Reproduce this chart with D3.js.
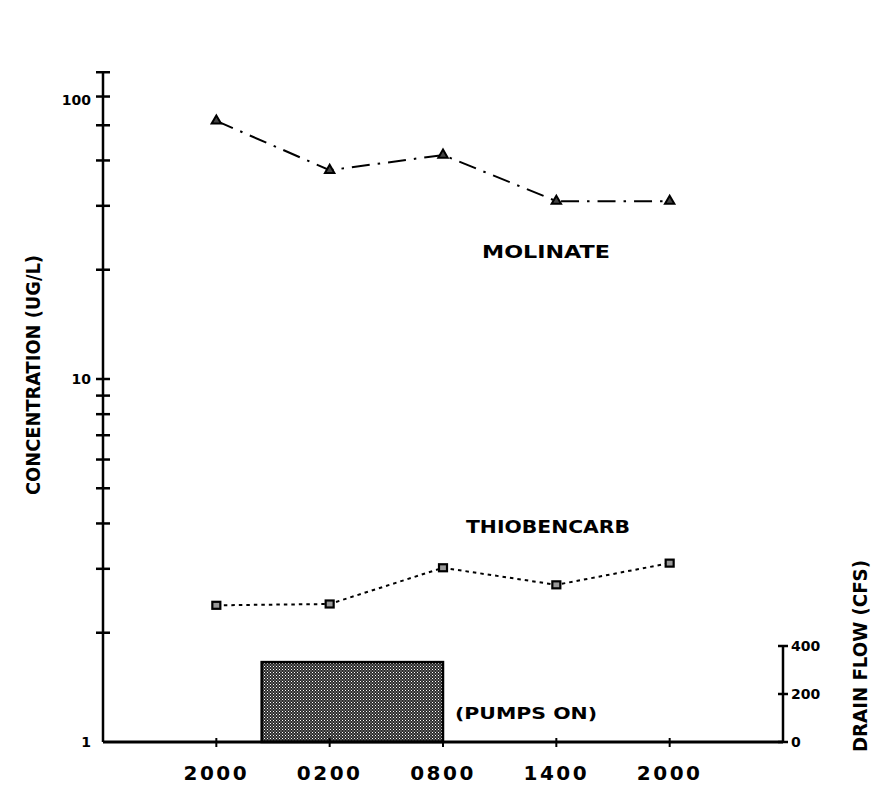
<!DOCTYPE html>
<html>
<head>
<meta charset="utf-8">
<script src="https://cdn.jsdelivr.net/npm/d3@7"></script>
<style>
  html, body { margin: 0; padding: 0; background: #fff; }
  svg { display: block; }
  text { fill: #000; }
</style>
</head>
<body>
<svg id="chart" width="888" height="785"></svg>
<script>
// Sampling times, hours after the first 2000 sample
const sampleHours = [0, 6, 12, 18, 24];
const timeLabels = ["2000", "0200", "0800", "1400", "2000"];

// Concentrations (ug/L)
const molinate = [51.4, 37.6, 41.4, 30.9, 30.9];
const thiobencarb = [2.38, 2.40, 3.02, 2.71, 3.11];

// Drain pumping period (hours) and flow (cfs)
const pumpStart = [2.4];
const pumpEnd = [12];
const pumpFlow = [333];

// Axis ticks
const concMinorTicks = [2, 3, 4, 5, 6, 7, 8, 9, 10, 20, 30, 40, 50, 60, 70];
const concLabelValues = [1, 10, 70];
const concLabelText = ["1", "10", "100"];
const flowTicks = [0, 200, 400];

const svg = d3.select("#chart");

const x = d3.scaleLinear().domain([-6, 30]).range([103, 783]);
const y = d3.scaleLog().domain([1, 70]).range([742, 742 - 363 * Math.log10(70)]);
const yFlow = d3.scaleLinear().domain([0, 400]).range([742, 646]);

const ink = "#000";
const labelFont = "'DejaVu Sans', 'Noto Sans', sans-serif";
const condFont = "'DejaVu Sans Condensed', 'DejaVu Sans', sans-serif";

// Hatched fill for the pumping bar
const defs = svg.append("defs");
const pat = defs.append("pattern")
  .attr("id", "hatch").attr("patternUnits", "userSpaceOnUse")
  .attr("width", 3).attr("height", 3);
pat.append("rect").attr("width", 3).attr("height", 3).attr("fill", "#2a2a2a");
pat.append("rect").attr("x", 0).attr("y", 0).attr("width", 1).attr("height", 1).attr("fill", "#fff");
pat.append("rect").attr("x", 1.5).attr("y", 1.5).attr("width", 1).attr("height", 1).attr("fill", "#ccc");

// Drain flow bar
svg.append("g").selectAll("rect").data(pumpFlow).join("rect")
  .attr("x", (d, i) => x(pumpStart[i]))
  .attr("y", d => yFlow(d))
  .attr("width", (d, i) => x(pumpEnd[i]) - x(pumpStart[i]))
  .attr("height", d => yFlow(0) - yFlow(d))
  .attr("fill", "url(#hatch)")
  .attr("stroke", ink).attr("stroke-width", 2.5);

// Left concentration axis
const yAxis = svg.append("g").attr("transform", `translate(${x(-6)},0)`);
yAxis.append("line")
  .attr("x1", 0).attr("x2", 0)
  .attr("y1", y(1)).attr("y2", y(70))
  .attr("stroke", ink).attr("stroke-width", 2.5);
yAxis.selectAll("line.tick").data(concMinorTicks).join("line")
  .attr("class", "tick")
  .attr("x1", -7).attr("x2", 7)
  .attr("y1", d => y(d)).attr("y2", d => y(d))
  .attr("stroke", ink).attr("stroke-width", 2.5);
yAxis.selectAll("text").data(concLabelValues).join("text")
  .attr("x", -12)
  .attr("y", (d, i) => i === 2 ? y(d) + 28 : y(d))
  .attr("dy", "0.35em")
  .attr("text-anchor", "end")
  .attr("font-family", labelFont).attr("font-weight", "bold")
  .attr("font-size", 14)
  .text((d, i) => concLabelText[i]);

// Bottom time axis
const xAxis = svg.append("g");
xAxis.append("line")
  .attr("x1", x(-6)).attr("x2", x(30))
  .attr("y1", y(1)).attr("y2", y(1))
  .attr("stroke", ink).attr("stroke-width", 3);
xAxis.selectAll("line.tick").data(sampleHours).join("line")
  .attr("class", "tick")
  .attr("x1", d => x(d)).attr("x2", d => x(d))
  .attr("y1", y(1) - 4).attr("y2", y(1) + 5)
  .attr("stroke", ink).attr("stroke-width", 2);
xAxis.selectAll("text").data(sampleHours).join("text")
  .attr("x", d => x(d))
  .attr("y", 780)
  .attr("text-anchor", "middle")
  .attr("font-family", labelFont).attr("font-weight", "bold")
  .attr("font-size", 20).attr("letter-spacing", 2.5)
  .text((d, i) => timeLabels[i]);

// Right drain flow axis
const fAxis = svg.append("g").attr("transform", `translate(${x(30)},0)`);
fAxis.append("line")
  .attr("x1", 0).attr("x2", 0)
  .attr("y1", yFlow(0)).attr("y2", yFlow(400))
  .attr("stroke", ink).attr("stroke-width", 2.5);
fAxis.selectAll("line.tick").data(flowTicks).join("line")
  .attr("class", "tick")
  .attr("x1", -5).attr("x2", 5)
  .attr("y1", d => yFlow(d)).attr("y2", d => yFlow(d))
  .attr("stroke", ink).attr("stroke-width", 2.5);
fAxis.selectAll("text").data(flowTicks).join("text")
  .attr("x", 8)
  .attr("y", d => yFlow(d))
  .attr("dy", "0.35em")
  .attr("font-family", labelFont).attr("font-weight", "bold")
  .attr("font-size", 14)
  .text(d => d);

// Axis titles
svg.append("text")
  .attr("transform", `translate(40,375) rotate(-90)`)
  .attr("text-anchor", "middle")
  .attr("font-family", condFont).attr("font-weight", 600)
  .attr("font-size", 20).attr("textLength", 240)
  .attr("lengthAdjust", "spacingAndGlyphs")
  .text("CONCENTRATION (UG/L)");
svg.append("text")
  .attr("transform", `translate(867,656) rotate(-90)`)
  .attr("text-anchor", "middle")
  .attr("font-family", condFont).attr("font-weight", 600)
  .attr("font-size", 20).attr("textLength", 192)
  .attr("lengthAdjust", "spacingAndGlyphs")
  .text("DRAIN FLOW (CFS)");

// Series
const line = d3.line().x((d, i) => x(sampleHours[i])).y(d => y(d));

svg.append("path").datum(molinate)
  .attr("d", line)
  .attr("fill", "none").attr("stroke", ink).attr("stroke-width", 2)
  .attr("stroke-dasharray", "18 8 2.5 8");
svg.append("g").selectAll("path").data(molinate).join("path")
  .attr("d", d3.symbol(d3.symbolTriangle, 38))
  .attr("transform", (d, i) => `translate(${x(sampleHours[i])},${y(d)})`)
  .attr("fill", "#444").attr("stroke", ink).attr("stroke-width", 2);

svg.append("path").datum(thiobencarb)
  .attr("d", line)
  .attr("fill", "none").attr("stroke", ink).attr("stroke-width", 2)
  .attr("stroke-dasharray", "3.5 4");
svg.append("g").selectAll("rect").data(thiobencarb).join("rect")
  .attr("x", (d, i) => x(sampleHours[i]) - 4)
  .attr("y", d => y(d) - 3.5)
  .attr("width", 8).attr("height", 7)
  .attr("fill", "#999").attr("stroke", ink).attr("stroke-width", 2.2);

// Series names and annotation
svg.append("text")
  .attr("x", 546).attr("y", 258)
  .attr("text-anchor", "middle")
  .attr("font-family", labelFont).attr("font-weight", "bold")
  .attr("font-size", 18).attr("textLength", 128)
  .attr("lengthAdjust", "spacingAndGlyphs")
  .text("MOLINATE");
svg.append("text")
  .attr("x", 548).attr("y", 533)
  .attr("text-anchor", "middle")
  .attr("font-family", labelFont).attr("font-weight", "bold")
  .attr("font-size", 18).attr("textLength", 164)
  .attr("lengthAdjust", "spacingAndGlyphs")
  .text("THIOBENCARB");
svg.append("text")
  .attr("x", 455).attr("y", 719)
  .attr("font-family", labelFont).attr("font-weight", "bold")
  .attr("font-size", 16).attr("textLength", 142)
  .attr("lengthAdjust", "spacingAndGlyphs")
  .text("(PUMPS ON)");
</script>
</body>
</html>
